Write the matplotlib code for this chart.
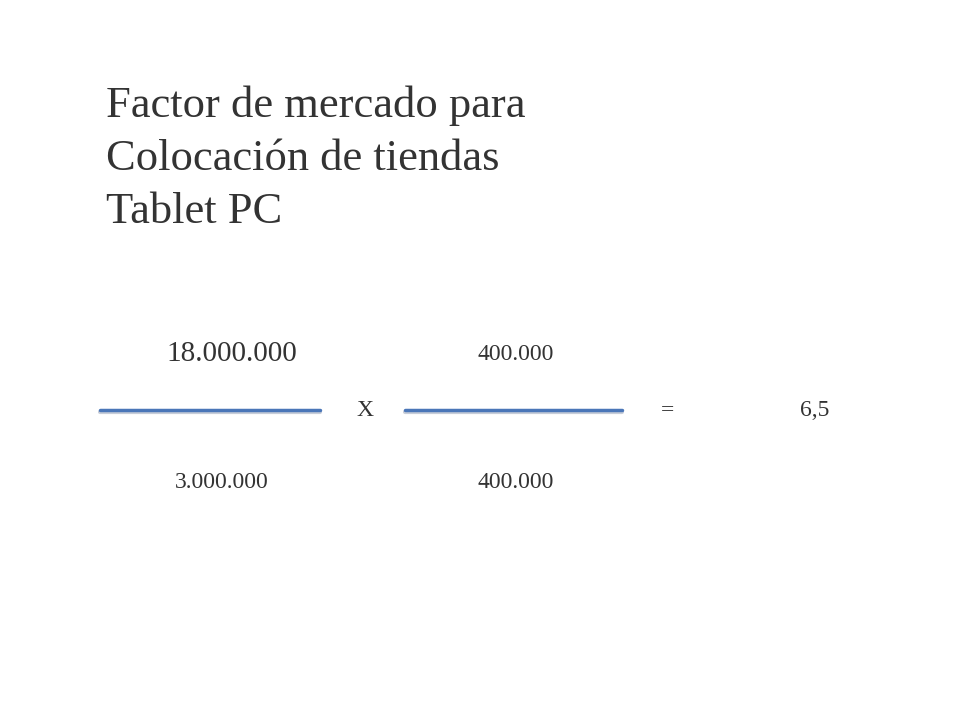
import matplotlib
matplotlib.use("Agg")
import matplotlib.pyplot as plt

title_lines = ["Factor de mercado para", "Colocación de tiendas", "Tablet PC"]
numerators = ["18.000.000", "400.000"]
denominators = ["3.000.000", "400.000"]
result = "6,5"

W, H = 960, 720
fig = plt.figure(figsize=(9.6, 7.2), dpi=100)
ax = fig.add_axes([0, 0, 1, 1])
ax.set_xlim(0, W); ax.set_ylim(H, 0); ax.axis("off")
font = "Liberation Serif"
col = "#333333"

for i, t in enumerate(title_lines):
    ax.text(106, 106 + 53 * i, t, fontsize=32, family=font, color=col, va="center", ha="left")

ax.text(232, 354, numerators[0], fontsize=21, family=font, color=col, ha="center", va="center")
ax.text(516, 355, numerators[1], fontsize=17, family=font, color=col, ha="center", va="center")
ax.text(222, 482, denominators[0], fontsize=17, family=font, color=col, ha="center", va="center")
ax.text(516, 482, denominators[1], fontsize=17, family=font, color=col, ha="center", va="center")

for x0, x1 in [(100, 320), (405, 622)]:
    ax.plot([x0, x1], [412, 412], color="#b0b8c8", lw=3, solid_capstyle="round", alpha=0.7)
    ax.plot([x0, x1], [410, 410], color="#4a76b8", lw=2.5, solid_capstyle="round")

ax.text(365, 411, "X", fontsize=17, family=font, color=col, ha="center", va="center")
ax.text(668, 411, "=", fontsize=17, family=font, color=col, ha="center", va="center")
ax.text(815, 411, result, fontsize=17, family=font, color=col, ha="center", va="center")

fig.savefig("out.png", dpi=100, facecolor="white")
